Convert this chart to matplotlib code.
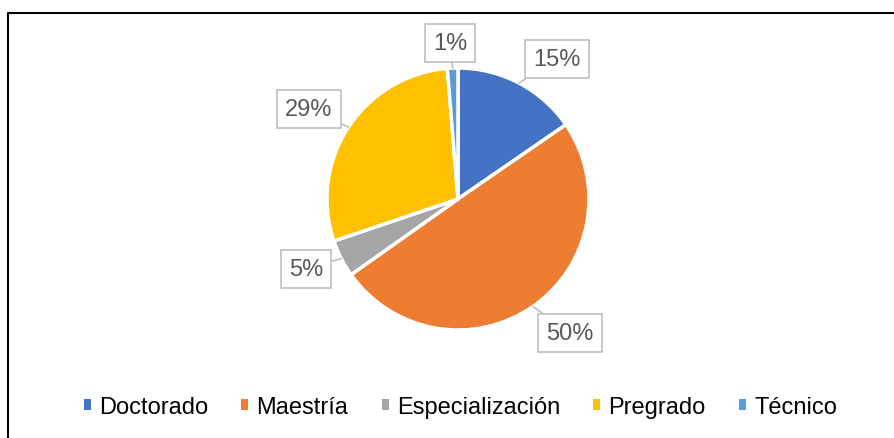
import numpy as np
import matplotlib.pyplot as plt
from matplotlib.patches import Patch

plt.rcParams['font.family'] = ['Liberation Sans', 'DejaVu Sans']

categories = ['Doctorado', 'Maestría', 'Especialización', 'Pregrado', 'Técnico']
values = [15.4, 49.8, 4.6, 28.9, 1.3]  # percent
colors = ['#4472C4', '#ED7D31', '#A5A5A5', '#FFC000', '#5B9BD5']

# label box centres in pixel space (x, y from top)
label_pos = [(557, 60), (570, 334), (306, 270), (309, 110), (450, 44)]

W, H = 894, 439
fig = plt.figure(figsize=(W / 100, H / 100), dpi=100)
ax = fig.add_axes([0, 0, 1, 1])

cx, cy, r = 458, H - 200, 131
wedges, _ = ax.pie(values, colors=colors, startangle=90, counterclock=False,
                   center=(cx, cy), radius=r, frame=True,
                   wedgeprops=dict(edgecolor='white', linewidth=2.5))
ax.set_xlim(0, W)
ax.set_ylim(0, H)
ax.set_aspect('equal')
ax.axis('off')

for w, v, (lx, ly) in zip(wedges, values, label_pos):
    ang = np.deg2rad((w.theta1 + w.theta2) / 2)
    px, py = cx + r * np.cos(ang), cy + r * np.sin(ang)
    ax.annotate(f'{v:.0f}%', xy=(px, py), xytext=(lx, H - ly),
                ha='center', va='center', fontsize=17, color='#595959',
                bbox=dict(boxstyle='square,pad=0.35', fc='white', ec='#BFBFBF', lw=1.2),
                arrowprops=dict(arrowstyle='-', color='#BFBFBF', lw=1.2,
                                shrinkA=0, shrinkB=0))

# outer frame (top and left visible)
ax.plot([8, 8, W], [0, H - 14, H - 14], color='black', lw=1.5, clip_on=False)

handles = [Patch(facecolor=c, edgecolor='none') for c in colors]
fig.legend(handles, categories, loc='center', bbox_to_anchor=(0.515, 1 - 408 / H),
           ncol=5, frameon=False, fontsize=17, handlelength=0.3, handleheight=0.3,
           handletextpad=0.35, columnspacing=1.4)

fig.savefig('out.png', dpi=100)
